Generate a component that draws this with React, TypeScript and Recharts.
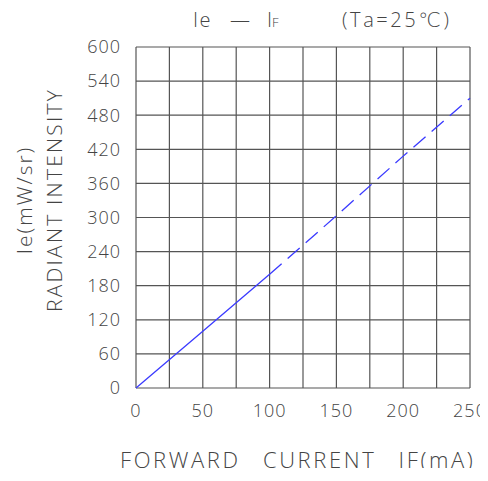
import React from 'react';
import { LineChart, Line, XAxis, YAxis, CartesianGrid } from 'recharts';

const currents = [0, 50, 100, 150, 200, 250];
const intensities = [0, 100, 200, 303, 408, 510];
const xTicks = [0, 25, 50, 75, 100, 125, 150, 175, 200, 225, 250];
const yTicks = [0, 60, 120, 180, 240, 300, 360, 420, 480, 540, 600];
// measured up to 100mA, extrapolated (dashed) beyond
const measuredLimit = 100;

const data = currents.map((c, i) => ({
  current: c,
  solid: c <= measuredLimit ? intensities[i] : null,
  dashed: c >= measuredLimit ? intensities[i] : null,
}));

const font = '"Open Sans", "DejaVu Sans", sans-serif';
const textColor = '#444';
const gridColor = '#555';
const lineColor = '#3a3aff';

const textStyle: React.CSSProperties = {
  position: 'absolute',
  fontFamily: font,
  fontWeight: 300,
  color: textColor,
  whiteSpace: 'nowrap',
  lineHeight: 1,
};

const tickStyle = { fill: textColor, fontSize: 18, fontFamily: font, fontWeight: 300, letterSpacing: 1 };

export default function App() {
  return (
    <div style={{ position: 'relative', width: 480, height: 460 }}>
      <style>{'html, body { overflow: hidden; }'}</style>
      <LineChart
        width={480}
        height={460}
        data={data}
        margin={{ top: 39, right: 18, left: 68, bottom: 50 }}
        style={{ overflow: 'visible' }}
      >
        <CartesianGrid stroke={gridColor} strokeWidth={1.2} horizontalValues={yTicks} verticalValues={xTicks} />
        <XAxis
          dataKey="current"
          type="number"
          domain={[0, 250]}
          ticks={xTicks}
          interval={0}
          height={30}
          axisLine={false}
          tickLine={false}
          tickMargin={10}
          tickFormatter={(v: number) => (v % 50 === 0 ? String(v) : '')}
          tick={tickStyle}
        />
        <YAxis
          type="number"
          domain={[0, 600]}
          ticks={yTicks}
          interval={0}
          width={60}
          axisLine={false}
          tickLine={false}
          tickMargin={9}
          tick={tickStyle}
        />
        <Line
          dataKey="solid"
          stroke={lineColor}
          strokeWidth={1.3}
          dot={false}
          isAnimationActive={false}
          connectNulls={false}
        />
        <Line
          dataKey="dashed"
          stroke={lineColor}
          strokeWidth={1.3}
          strokeDasharray="16 8"
          dot={false}
          isAnimationActive={false}
          connectNulls={false}
        />
      </LineChart>
      <div style={{ ...textStyle, left: 185, top: 2, fontSize: 20, letterSpacing: 1.5 }}>Ie</div>
      <div style={{ ...textStyle, left: 222, top: 2, fontSize: 20 }}>—</div>
      <div style={{ ...textStyle, left: 259, top: 2, fontSize: 20 }}>
        I<span style={{ fontSize: 13 }}>F</span>
      </div>
      <div style={{ ...textStyle, left: 334, top: 2, fontSize: 20, letterSpacing: 2.6 }}>(Ta=25℃)</div>
      <div
        style={{
          ...textStyle,
          left: 16,
          top: 192,
          fontSize: 21,
          letterSpacing: 2,
          transform: 'translate(-50%, -50%) rotate(-90deg)',
        }}
      >
        Ie(mW/sr)
      </div>
      <div
        style={{
          ...textStyle,
          left: 46,
          top: 192,
          fontSize: 21,
          letterSpacing: 2.2,
          transform: 'translate(-50%, -50%) rotate(-90deg)',
        }}
      >
        RADIANT INTENSITY
      </div>
      <div style={{ ...textStyle, left: 112, top: 440, fontSize: 22, letterSpacing: 2.6, wordSpacing: 14 }}>
        FORWARD CURRENT IF(mA)
      </div>
    </div>
  );
}
